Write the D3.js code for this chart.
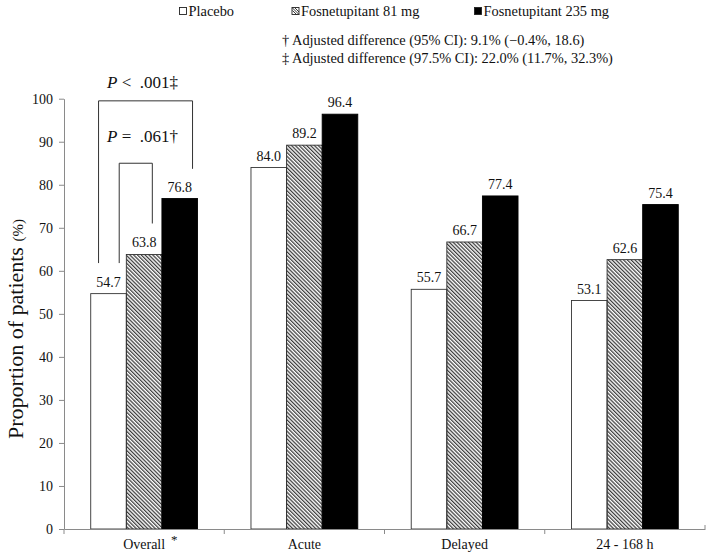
<!DOCTYPE html>
<html>
<head>
<meta charset="utf-8">
<script src="https://cdn.jsdelivr.net/npm/d3@7"></script>
<style>
  body { margin: 0; background: #fff; }
  svg text { font-family: "Liberation Serif", "Times New Roman", Times, serif !important; }
</style>
</head>
<body>
<svg id="chart" width="709" height="556"></svg>
<script>
// ---- data ----
const categories = ["Overall", "Acute", "Delayed", "24 - 168 h"];
const categoryMarks = ["*", "", "", ""];
const seriesNames = ["Placebo", "Fosnetupitant 81 mg", "Fosnetupitant 235 mg"];
const placebo = [54.7, 84.0, 55.7, 53.1];
const fos81 = [63.8, 89.2, 66.7, 62.6];
const fos235 = [76.8, 96.4, 77.4, 75.4];
const yTicks = [0, 10, 20, 30, 40, 50, 60, 70, 80, 90, 100];
const footnotes = [
  "\u2020 Adjusted difference (95% CI): 9.1% (\u22120.4%, 18.6)",
  "\u2021 Adjusted difference (97.5% CI): 22.0% (11.7%, 32.3%)"
];
// comparison brackets (category index, from series, to series, top value, left foot, right foot, label)
const brackets = [
  { cat: 0, from: 0, to: 2, top: 99.5, leftFoot: 61.8, rightFoot: 83.7, label: ["P", " < \u00A0.001\u2021"] },
  { cat: 0, from: 0, to: 1, top: 85.0, leftFoot: 61.8, rightFoot: 71.0, label: ["P", " = \u00A0.061\u2020"] }
];

const seriesValues = [placebo, fos81, fos235];

// ---- layout ----
const W = 709, H = 556;
const margin = { left: 64, right: 4, top: 98.7, bottom: 27 };
const svg = d3.select("#chart");

const defs = svg.append("defs");
defs.append("pattern")
  .attr("id", "hatch")
  .attr("patternUnits", "userSpaceOnUse")
  .attr("width", 2.7).attr("height", 10)
  .attr("patternTransform", "rotate(-45)")
  .append("rect")
  .attr("x", 0).attr("y", 0).attr("width", 1.25).attr("height", 10)
  .attr("fill", "#3a3a3a");

const fills = ["#ffffff", "url(#hatch)", "#000000"];

const x = d3.scaleBand().domain(categories)
  .range([margin.left, W - margin.right]).paddingInner(0).paddingOuter(0);
const groupFrac = 106.8 / 160.25;
const xs = d3.scaleBand().domain(d3.range(seriesNames.length))
  .range([0, x.bandwidth() * groupFrac]);
const groupOffset = (x.bandwidth() - xs.range()[1]) / 2;

const y = d3.scaleLinear().domain([0, 100]).range([H - margin.bottom, margin.top]);

// bars
const rows = [];
categories.forEach((c, ci) => {
  seriesValues.forEach((vals, si) => rows.push({ c, ci, si, v: vals[ci] }));
});

const barX = d => x(d.c) + groupOffset + xs(d.si);

svg.append("g").selectAll("rect").data(rows).join("rect")
  .attr("x", barX)
  .attr("y", d => y(d.v))
  .attr("width", xs.bandwidth())
  .attr("height", d => y(0) - y(d.v))
  .attr("fill", d => fills[d.si])
  .attr("stroke", d => d.si === 2 ? "#000" : "#333")
  .attr("stroke-width", 0.9);

// value labels
svg.append("g").selectAll("text").data(rows).join("text")
  .attr("x", d => barX(d) + xs.bandwidth() / 2)
  .attr("y", d => y(d.v) - 7)
  .attr("text-anchor", "middle")
  .attr("font-size", 14)
  .attr("fill", "#111")
  .text(d => d.v.toFixed(1));

// y axis
const yAxis = svg.append("g")
  .attr("transform", `translate(${margin.left},0)`)
  .call(d3.axisLeft(y).tickValues(yTicks).tickSize(5).tickSizeOuter(0).tickPadding(6));
yAxis.select(".domain").attr("stroke", "#8a8a8a");
yAxis.selectAll(".tick line").attr("stroke", "#8a8a8a");
yAxis.selectAll(".tick text")
  .attr("font-size", 14).attr("fill", "#111");

// x axis
const xAxis = svg.append("g")
  .attr("transform", `translate(0,${y(0)})`)
  .call(d3.axisBottom(x).tickSize(0).tickSizeOuter(0).tickPadding(10));
xAxis.select(".domain").attr("stroke", "#8a8a8a");
xAxis.selectAll(".tick text")
  .attr("font-size", 14).attr("fill", "#111");
// boundary ticks
const bounds = categories.map(c => x(c)).concat([x.range()[1]]);
svg.append("g").selectAll("line").data(bounds).join("line")
  .attr("x1", d => d).attr("x2", d => d)
  .attr("y1", y(0)).attr("y2", (d, i) => i === bounds.length - 1 ? y(0) - 4 : y(0) + 5)
  .attr("stroke", "#8a8a8a");
// category marks (asterisk)
xAxis.selectAll(".tick").each(function(c, i) {
  const mark = categoryMarks[i];
  if (!mark) return;
  const t = d3.select(this).select("text");
  const w = t.node().getComputedTextLength();
  d3.select(this).append("text")
    .attr("x", w / 2 + 6)
    .attr("y", 15)
    .attr("text-anchor", "start")
    .attr("font-size", 13)
    .attr("fill", "#111")
    .text(mark);
});

// y label
const yl = svg.append("text")
  .attr("transform", `translate(23,329) rotate(-90)`)
  .attr("text-anchor", "middle")
  .attr("fill", "#111");
yl.append("tspan").attr("font-size", 22).text("Proportion of patients ");
yl.append("tspan").attr("font-size", 15).text("(%)");

// brackets
const barAt = (ci, si) => x(categories[ci]) + groupOffset + xs(si);
const bw = xs.bandwidth();
const bracketFrac = [
  { l: 0.22, r: 0.86, labelY: 88 },
  { l: 0.80, r: 0.73, labelY: 142 }
];
brackets.forEach((b, i) => {
  const fr = bracketFrac[i];
  const xl = barAt(b.cat, b.from) + bw * fr.l;
  const xr = barAt(b.cat, b.to) + bw * fr.r;
  const p = d3.path();
  p.moveTo(xl, y(b.leftFoot));
  p.lineTo(xl, y(b.top));
  p.lineTo(xr, y(b.top));
  p.lineTo(xr, y(b.rightFoot));
  svg.append("path").attr("d", p.toString())
    .attr("fill", "none").attr("stroke", "#333").attr("stroke-width", 1);
  const t = svg.append("text")
    .attr("x", 107).attr("y", fr.labelY)
    .attr("font-size", 17).attr("fill", "#111");
  t.append("tspan").attr("font-style", "italic").text(b.label[0]);
  t.append("tspan").text(b.label[1]);
});

// legend
const legendX = [179, 291.5, 474];
const lg = svg.append("g").selectAll("g").data(seriesNames).join("g")
  .attr("transform", (d, i) => `translate(${legendX[i]},0)`);
lg.append("rect")
  .attr("x", 0.5).attr("y", 7.5).attr("width", 7).attr("height", 7)
  .attr("fill", (d, i) => i === 1 ? "#fff" : fills[i])
  .attr("stroke", "#222").attr("stroke-width", 0.9);
lg.filter((d, i) => i === 1).append("path")
  .attr("d", "M1,8 L7.5,14.5 M1,10.5 L5,14.5 M3.5,8 L7.5,12")
  .attr("stroke", "#222").attr("stroke-width", 0.9);
lg.append("text")
  .attr("x", 9.5).attr("y", 15.5)
  .attr("font-size", 14.4).attr("fill", "#111")
  .text(d => d);

// footnotes
svg.append("g").selectAll("text").data(footnotes).join("text")
  .attr("x", 282).attr("y", (d, i) => 45 + i * 18)
  .attr("font-size", 14.4).attr("fill", "#111")
  .text(d => d);
</script>
</body>
</html>
